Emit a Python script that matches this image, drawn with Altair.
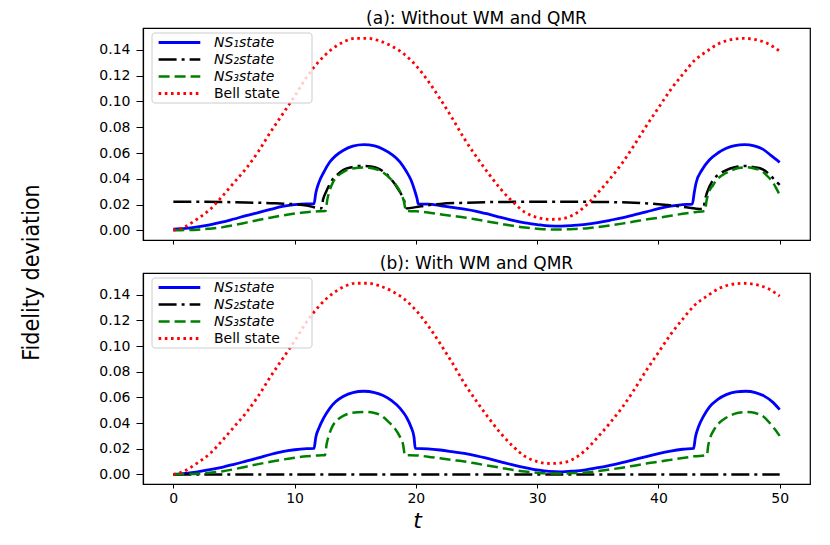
import altair as alt
import pandas as pd

# ---------------- data ----------------
T_TICKS = [0, 10, 20, 30, 40, 50]
Y_TICKS = [0.00, 0.02, 0.04, 0.06, 0.08, 0.10, 0.12, 0.14]
PANEL_TITLES = ["(a): Without WM and QMR", "(b): With WM and QMR"]
LEGEND_LABELS = ["NS\u2081state", "NS\u2082state", "NS\u2083state", "Bell state"]
LEGEND_ITALIC = [True, True, True, False]
X_TITLE = "t"
Y_TITLE = "Fidelity deviation"

BELL_T = list(range(51))
BELL_V = [0.000, 0.003, 0.009, 0.016, 0.026, 0.037, 0.048, 0.061, 0.076, 0.090,
          0.104, 0.119, 0.131, 0.140, 0.146, 0.149, 0.149, 0.147, 0.143, 0.137,
          0.128, 0.116, 0.102, 0.087, 0.071, 0.057, 0.044, 0.032, 0.022, 0.014,
          0.010, 0.0085, 0.009, 0.012, 0.019, 0.029, 0.040, 0.052, 0.066, 0.081,
          0.095, 0.109, 0.121, 0.132, 0.139, 0.145, 0.148, 0.149, 0.148, 0.145,
          0.139]

A_NS1_T = [0, 1, 2, 3, 4, 5, 6, 7, 8, 9, 10, 11,
           11.6, 11.75, 12.0, 12.4, 12.9, 13.4, 14.0, 14.8, 15.7, 16.6, 17.3, 18.0,
           18.7, 19.2, 19.6, 19.9, 20.1, 20.2,
           21, 22, 23, 24, 25, 26, 27, 28, 29, 30, 31, 32, 33, 34, 35, 36, 37, 38,
           39, 40, 41, 42,
           42.8, 42.95, 43.1, 43.6, 44.2, 44.9, 45.6, 46.3, 47.1, 47.9, 48.6, 49.3, 50]
A_NS1_V = [0.0010, 0.0015, 0.0027, 0.0043, 0.0063, 0.0088, 0.0114, 0.0138, 0.0162,
           0.0185, 0.0200, 0.0205,
           0.0205, 0.0290, 0.0370, 0.0450, 0.0530, 0.0580, 0.0620, 0.0653, 0.0665,
           0.0655, 0.0630, 0.0590, 0.0530, 0.0460, 0.0390, 0.0310, 0.0245, 0.0205,
           0.0203, 0.0192, 0.0178, 0.0165, 0.0148, 0.0125, 0.0100, 0.0077, 0.0058,
           0.0045, 0.0035, 0.0033, 0.0038, 0.0046, 0.0060, 0.0078, 0.0097, 0.0120,
           0.0143, 0.0168, 0.0188, 0.0200,
           0.0204, 0.0290, 0.0365, 0.0470, 0.0546, 0.0600, 0.0637, 0.0658, 0.0665,
           0.0655, 0.0630, 0.0580, 0.0528]

A_NS2_T = [0, 2, 4, 6, 8, 10, 11, 12.2,
           12.35, 12.6, 13.1, 13.5, 14.0, 14.7, 15.5, 16.3, 17.0, 17.6, 18.1, 18.6,
           19.0, 19.25,
           20, 21, 22, 24, 26, 28, 30, 32, 34, 36, 38, 40, 41, 42, 43.7,
           43.85, 44.0, 44.5, 45.0, 45.6, 46.3, 47.1, 47.9, 48.6, 49.2, 49.6, 50]
A_NS2_V = [0.0222, 0.0222, 0.0220, 0.0216, 0.0211, 0.0202, 0.0192, 0.0170,
           0.0240, 0.0300, 0.0390, 0.0430, 0.0468, 0.0490, 0.0500, 0.0495, 0.0475,
           0.0435, 0.0380, 0.0310, 0.0240, 0.0170,
           0.0180, 0.0195, 0.0205, 0.0214, 0.0219, 0.0221, 0.0222, 0.0222, 0.0221,
           0.0219, 0.0214, 0.0203, 0.0194, 0.0183, 0.0165,
           0.0240, 0.0290, 0.0390, 0.0435, 0.0468, 0.0490, 0.0500, 0.0490, 0.0473,
           0.0430, 0.0390, 0.0352]

A_NS3_T = [0, 1, 2, 3, 4, 5, 6, 7, 8, 9, 10, 11, 12,
           12.55, 12.7, 12.9, 13.2, 13.6, 14.1, 14.8, 15.7, 16.5, 17.2, 17.8, 18.3,
           18.7, 19.0, 19.2,
           20, 21, 22, 23, 24, 25, 26, 27, 28, 29, 30, 31, 32, 33, 34, 35, 36, 37,
           38, 39, 40, 41, 42, 43,
           43.85, 43.95, 44.1, 44.5, 44.8, 45.3, 45.9, 46.6, 47.3, 48.0, 48.6, 49.1,
           49.4, 49.7, 50]
A_NS3_V = [0.0000, 0.0002, 0.0005, 0.0013, 0.0023, 0.0040, 0.0060, 0.0080, 0.0098,
           0.0115, 0.0130, 0.0141, 0.0148,
           0.0150, 0.0240, 0.0310, 0.0380, 0.0425, 0.0458, 0.0480, 0.0487, 0.0480,
           0.0455, 0.0410, 0.0360, 0.0300, 0.0230, 0.0150,
           0.0148, 0.0138, 0.0125, 0.0112, 0.0100, 0.0084, 0.0067, 0.0051, 0.0035,
           0.0022, 0.0013, 0.0007, 0.0007, 0.0010, 0.0015, 0.0025, 0.0038, 0.0052,
           0.0068, 0.0084, 0.0098, 0.0113, 0.0128, 0.0141,
           0.0150, 0.0220, 0.0280, 0.0350, 0.0390, 0.0430, 0.0460, 0.0483, 0.0490,
           0.0478, 0.0455, 0.0410, 0.0377, 0.0330, 0.0274]

B_NS1_T = [0, 1, 2, 3, 4, 5, 6, 7, 8, 9, 10, 11,
           11.6, 11.75, 12.0, 12.4, 12.9, 13.4, 14.0, 14.8, 15.7, 16.6, 17.3, 18.0,
           18.7, 19.2, 19.6, 19.85, 19.95,
           21, 22, 23, 24, 25, 26, 27, 28, 29, 30, 31, 32, 33, 34, 35, 36, 37, 38,
           39, 40, 41, 42,
           42.9, 43.05, 43.3, 43.7, 44.2, 44.9, 45.6, 46.4, 47.2, 48.0, 48.7, 49.4, 50]
B_NS1_V = [0.0000, 0.0008, 0.0020, 0.0037, 0.0055, 0.0078, 0.0103, 0.0128, 0.0155,
           0.0178, 0.0192, 0.0200,
           0.0202, 0.0290, 0.0360, 0.0440, 0.0515, 0.0568, 0.0607, 0.0638, 0.0648,
           0.0638, 0.0615, 0.0575, 0.0515, 0.0450, 0.0370, 0.0290, 0.0202,
           0.0199, 0.0190, 0.0177, 0.0163, 0.0145, 0.0122, 0.0098, 0.0074, 0.0053,
           0.0035, 0.0023, 0.0020, 0.0026, 0.0036, 0.0052, 0.0071, 0.0092, 0.0115,
           0.0138, 0.0162, 0.0182, 0.0196,
           0.0202, 0.0290, 0.0370, 0.0450, 0.0525, 0.0585, 0.0622, 0.0643, 0.0648,
           0.0638, 0.0612, 0.0565, 0.0505]

B_NS2_T = [0, 50]
B_NS2_V = [0.0, 0.0]

B_NS3_T = [0, 1, 2, 3, 4, 5, 6, 7, 8, 9, 10, 11, 12,
           12.5, 12.65, 12.85, 13.15, 13.55, 14.05, 14.75, 15.7, 16.5, 17.2, 17.75,
           18.25, 18.65, 18.95, 19.1,
           20, 21, 22, 23, 24, 25, 26, 27, 28, 29, 30, 31, 32, 33, 34, 35, 36, 37,
           38, 39, 40, 41, 42, 43,
           44.0, 44.1, 44.25, 44.6, 44.9, 45.4, 46.0, 46.6, 47.3, 48.0, 48.6, 49.1,
           49.5, 50]
B_NS3_V = [0.0000, 0.0002, 0.0005, 0.0013, 0.0023, 0.0040, 0.0060, 0.0080, 0.0098,
           0.0115, 0.0130, 0.0141, 0.0148,
           0.0150, 0.0240, 0.0310, 0.0380, 0.0425, 0.0458, 0.0480, 0.0487, 0.0480,
           0.0455, 0.0410, 0.0360, 0.0300, 0.0230, 0.0150,
           0.0148, 0.0138, 0.0125, 0.0112, 0.0100, 0.0084, 0.0067, 0.0051, 0.0035,
           0.0022, 0.0013, 0.0007, 0.0007, 0.0010, 0.0015, 0.0025, 0.0038, 0.0052,
           0.0068, 0.0084, 0.0098, 0.0113, 0.0128, 0.0141,
           0.0150, 0.0220, 0.0280, 0.0350, 0.0390, 0.0430, 0.0462, 0.0480, 0.0487,
           0.0478, 0.0455, 0.0410, 0.0365, 0.0300]

# ---------------- styles ----------------
STYLES = [
    dict(color="#0000ff", strokeWidth=2.8),
    dict(color="#000000", strokeWidth=2.5, strokeDash=[18, 5, 3, 5]),
    dict(color="#008000", strokeWidth=2.5, strokeDash=[11, 5]),
    dict(color="#ff0000", strokeWidth=2.8, strokeDash=[2.6, 3.6]),
]

FONT = "DejaVu Sans"
PLOT_W = 667
X_DOMAIN = [-2.5, 52.5]
Y_DOMAIN = [-0.0075, 0.157]


def panel(series, title, height, bottom):
    xs = alt.Scale(domain=X_DOMAIN, nice=False, zero=False)
    ys = alt.Scale(domain=Y_DOMAIN, nice=False, zero=False)
    if bottom:
        xaxis = alt.Axis(values=T_TICKS, format="d", title=X_TITLE, tickSize=4,
                         labelPadding=3, titleFont=FONT, titleFontStyle="italic",
                         titleFontSize=22, titleFontWeight="normal",
                         titleX=274, titleY=43, titleBaseline="alphabetic",
                         titleAnchor="start", titleAlign="center")
        yaxis = alt.Axis(values=Y_TICKS, format=".2f", title=None, tickSize=7,
                         labelPadding=6)
    else:
        xaxis = alt.Axis(values=T_TICKS, labels=False, title=None, tickSize=4)
        yaxis = alt.Axis(values=Y_TICKS, format=".2f", title=Y_TITLE, tickSize=7,
                         labelPadding=6,
                         titleFont="Liberation Sans Narrow, DejaVu Sans Condensed",
                         titleFontSize=23, titleFontWeight="normal",
                         titleX=-100, titleY=244, titleAnchor="start",
                         titleAlign="center", titleAngle=270)
    layers = []
    for (ts, vs), st in zip(series, STYLES):
        df = pd.DataFrame({"t": ts, "v": vs})
        layers.append(
            alt.Chart(df).mark_line(interpolate="monotone", strokeCap="butt", **st).encode(
                x=alt.X("t:Q", scale=xs, axis=xaxis),
                y=alt.Y("v:Q", scale=ys, axis=yaxis),
            )
        )
    one = pd.DataFrame({"k": [0]})
    box = alt.Chart(one).mark_rect(
        fill="white", fillOpacity=0.8, stroke="#cccccc", strokeWidth=1, cornerRadius=3
    ).encode(x=alt.value(9), x2=alt.value(169), y=alt.value(5), y2=alt.value(75))
    layers.append(box)
    rows = [14.5, 31.5, 48.5, 65.5]
    for lab, ital, st, ry in zip(LEGEND_LABELS, LEGEND_ITALIC, STYLES, rows):
        layers.append(
            alt.Chart(one).mark_rule(strokeCap="butt", **st).encode(
                x=alt.value(15.6), x2=alt.value(57.3), y=alt.value(ry)
            )
        )
        layers.append(
            alt.Chart(one).mark_text(
                align="left", baseline="middle", font=FONT, fontSize=14,
                fontStyle="italic" if ital else "normal", color="black"
            ).encode(x=alt.value(71), y=alt.value(ry), text=alt.value(lab))
        )
    return alt.layer(*layers).properties(
        width=PLOT_W, height=height,
        title=alt.TitleParams(title, font=FONT, fontSize=17, fontWeight="normal",
                              anchor="middle", offset=0, color="black"),
    )


top = panel([(A_NS1_T, A_NS1_V), (A_NS2_T, A_NS2_V), (A_NS3_T, A_NS3_V),
             (BELL_T, BELL_V)], PANEL_TITLES[0], 212, False)
bot = panel([(B_NS1_T, B_NS1_V), (B_NS2_T, B_NS2_V), (B_NS3_T, B_NS3_V),
             (BELL_T, BELL_V)], PANEL_TITLES[1], 211, True)

chart = alt.vconcat(top, bot, spacing=33, bounds="flush").properties(
    padding={"left": 11, "top": 1, "right": 5, "bottom": 0}
).configure_view(stroke="black", strokeWidth=1.2).configure_axis(
    domainColor="black", tickColor="black", labelColor="black", titleColor="black",
    labelFont=FONT, labelFontSize=14, grid=False, domainWidth=1.2, tickWidth=1,
)

chart.save("out.html", embed_options={"renderer": "svg", "actions": False})
